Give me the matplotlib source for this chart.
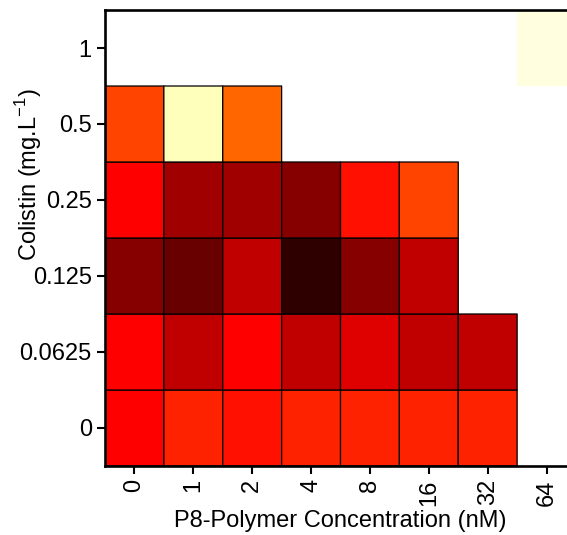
import matplotlib
matplotlib.use('Agg')
import matplotlib.pyplot as plt
import numpy as np

plt.rcParams['font.family'] = ['Liberation Sans', 'DejaVu Sans']

polymer = ['0', '1', '2', '4', '8', '16', '32', '64']
colistin = ['0', '0.0625', '0.125', '0.25', '0.5', '1']

# colour intensity per cell (hot colormap scale, 0-1), rows from colistin 0 up to 1
nan = np.nan
row_0 = [0.365, 0.416, 0.389, 0.416, 0.416, 0.416, 0.416, nan]
row_00625 = [0.365, 0.271, 0.365, 0.271, 0.319, 0.271, 0.271, nan]
row_0125 = [0.187, 0.143, 0.271, 0.056, 0.187, 0.271, nan, nan]
row_025 = [0.365, 0.223, 0.223, 0.187, 0.389, 0.468, nan, nan]
row_05 = [0.468, 0.930, 0.517, nan, nan, nan, nan, nan]
row_1 = [nan, nan, nan, nan, nan, nan, nan, 0.965]

vals = np.array([row_0, row_00625, row_0125, row_025, row_05, row_1])

fig = plt.figure(figsize=(5.67, 5.35), dpi=100)
ax = fig.add_axes([0.1852, 0.129, 0.8307, 0.8523])

xe = np.arange(len(polymer) + 1)
ye = np.arange(len(colistin) + 1)

# main cells with black borders (pcolor drops masked cells)
body = np.ma.masked_invalid(vals.copy())
body[-1, :] = np.ma.masked
ax.pcolor(xe, ye, body, cmap='hot', vmin=0, vmax=1,
          edgecolors='k', linewidth=0.9)
# top row has no borders
top = np.ma.masked_invalid(vals.copy())
top[:-1, :] = np.ma.masked
ax.pcolor(xe, ye, top, cmap='hot', vmin=0, vmax=1, linewidth=0)

ax.set_xlim(0, len(polymer))
ax.set_ylim(0, len(colistin))
ax.set_xticks(np.arange(len(polymer)) + 0.5)
ax.set_xticklabels(polymer, rotation=90, fontsize=17)
ax.set_yticks(np.arange(len(colistin)) + 0.5)
ax.set_yticklabels(colistin, fontsize=17)
ax.tick_params(direction='out', length=6, width=1.5, pad=3.5)

for s in ['left', 'bottom', 'top']:
    ax.spines[s].set_linewidth(1.9)
ax.spines['right'].set_visible(False)

ax.set_xlabel('P8-Polymer Concentration (nM)', fontsize=17, labelpad=3)
ax.set_ylabel('Colistin (mg.L$^{\\mathregular{-1}}$)', fontsize=17)
ax.yaxis.set_label_coords(-0.13, 0.64)

plt.savefig('out.png', dpi=100)
